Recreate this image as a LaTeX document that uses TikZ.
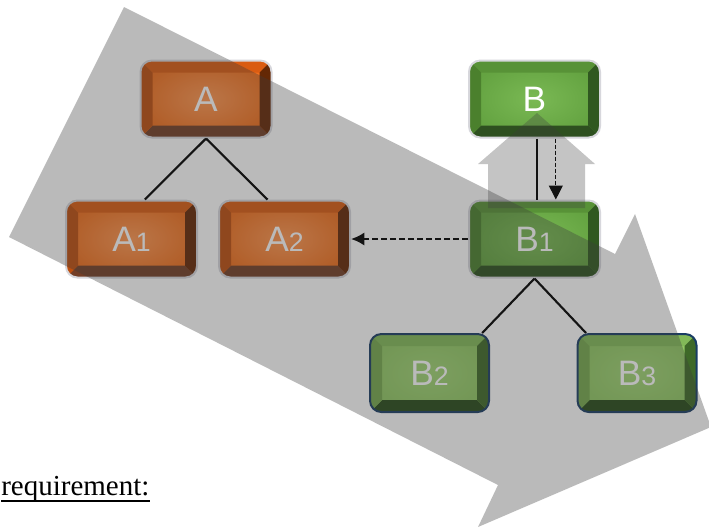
\documentclass[tikz,border=0pt]{standalone}
\usepackage{fontspec}
\setmainfont{Liberation Serif}
\newfontfamily\keyfont{Liberation Sans}
\usepackage{tikz}
\usetikzlibrary{arrows.meta}
\definecolor{orline}{RGB}{215,215,220}
\definecolor{orface}{RGB}{240,112,30}
\definecolor{orhigh}{RGB}{255,150,80}
\definecolor{ortop}{RGB}{218,92,18}
\definecolor{orleft}{RGB}{188,78,14}
\definecolor{orright}{RGB}{100,40,5}
\definecolor{orbottom}{RGB}{115,62,38}
\definecolor{grline}{RGB}{215,215,220}
\definecolor{grface}{RGB}{100,163,65}
\definecolor{grhigh}{RGB}{122,185,84}
\definecolor{grtop}{RGB}{88,146,55}
\definecolor{grleft}{RGB}{75,128,45}
\definecolor{grright}{RGB}{48,88,32}
\definecolor{grbottom}{RGB}{46,80,32}
\definecolor{lgline}{RGB}{25,60,100}
\definecolor{lgface}{RGB}{145,200,100}
\definecolor{lghigh}{RGB}{160,212,116}
\definecolor{lgtop}{RGB}{130,185,88}
\definecolor{lgleft}{RGB}{118,168,78}
\definecolor{lgright}{RGB}{62,105,40}
\definecolor{lgbottom}{RGB}{40,75,25}
\definecolor{veilgray}{RGB}{60,60,60}
\newcommand{\keysub}[1]{{\fontsize{20}{22}\selectfont#1}}
\tikzset{
  keybox/.style={draw=#1line, line width=1.5pt, rounded corners=8.5pt, inner sep=0pt,
    text=white, font=\keyfont\fontsize{26.5}{28}\selectfont,
    path picture={
      \fill[#1face, sharp corners] (path picture bounding box.south west) rectangle (path picture bounding box.north east);
      \shade[inner color=#1high, outer color=#1face, sharp corners] (path picture bounding box.south west) rectangle (path picture bounding box.north east);
      \fill[#1top, sharp corners] (path picture bounding box.north west) -- (path picture bounding box.north east)
        -- ([shift={(-9pt,-9pt)}]path picture bounding box.north east) -- ([shift={(9pt,-9pt)}]path picture bounding box.north west) -- cycle;
      \fill[#1bottom, sharp corners] (path picture bounding box.south west) -- (path picture bounding box.south east)
        -- ([shift={(-9pt,9pt)}]path picture bounding box.south east) -- ([shift={(9pt,9pt)}]path picture bounding box.south west) -- cycle;
      \fill[#1left, sharp corners] (path picture bounding box.south west) -- (path picture bounding box.north west)
        -- ([shift={(9pt,-9pt)}]path picture bounding box.north west) -- ([shift={(9pt,9pt)}]path picture bounding box.south west) -- cycle;
      \fill[#1right, sharp corners] (path picture bounding box.south east) -- (path picture bounding box.north east)
        -- ([shift={(-9pt,-9pt)}]path picture bounding box.north east) -- ([shift={(-9pt,9pt)}]path picture bounding box.south east) -- cycle;
    }},
  bigkey/.style={minimum width=98.25pt, minimum height=57.75pt},
  smallkey/.style={minimum width=89.25pt, minimum height=58.5pt},
  tree/.style={line width=1.6pt, black},
  link/.style={line width=1.8pt, dash pattern=on 4.5pt off 2.25pt, -{Latex[length=10pt, width=10pt]}},
  fetch/.style={line width=0.9pt, dash pattern=on 3pt off 1.5pt, -{Triangle[length=10.5pt, width=10.5pt]}},
  veil/.style={fill=veilgray, fill opacity=0.35},
}
\begin{document}
\begin{tikzpicture}[x=0.75pt, y=-0.75pt]
  \path[use as bounding box, clip] (0,0) rectangle (709,526);
  \fill[white] (0,0) rectangle (709,526);

  \node[keybox=or, bigkey] (A) at (206,99) {A};
  \node[keybox=or, bigkey] (A1) at (131.5,239) {A\keysub{1}};
  \node[keybox=or, bigkey] (A2) at (284.5,239) {A\keysub{2}};
  \node[keybox=gr, bigkey] (B) at (534.5,99) {B};
  \node[keybox=gr, bigkey] (B1) at (534.5,239) {B\keysub{1}};
  \node[keybox=lg, smallkey] (B2) at (429.5,373) {B\keysub{2}};
  \node[keybox=lg, smallkey] (B3) at (637,373) {B\keysub{3}};

  \draw[tree] (A.south) -- ([xshift=10pt]A1.north);
  \draw[tree] (A.south) -- ([xshift=-12.75pt]A2.north);
  \draw[tree] (B1.south) -- ([xshift=39.5pt]B2.north);
  \draw[tree] (B1.south) -- ([xshift=-38.25pt]B3.north);
  \draw[tree] ([xshift=2pt]B.south) -- ([xshift=2pt]B1.north);
  \draw[fetch] ([xshift=16pt]B.south) -- ([xshift=16pt]B1.north);
  \draw[link] (B1.west) -- (A2.east);

  % big arrow and the small one over the boxes
  \fill[veil] (124,7) -- (9,237) -- (498,485) -- (478,527) -- (711,427) -- (635,214) -- (615,254) -- cycle;
  \fill[veil, fill opacity=0.3] (537,113) -- (478,164) -- (488,164) -- (488,208) -- (585,208) -- (585,164) -- (595,164) -- cycle;

  \node[inner sep=0pt, anchor=base west, font=\fontsize{21.75}{26}\selectfont] (req) at (1,495) {requirement:};
  \draw[line width=1.5pt] ([yshift=-4.5pt]req.base west) -- ([yshift=-4.5pt]req.base east);
\end{tikzpicture}
\end{document}
